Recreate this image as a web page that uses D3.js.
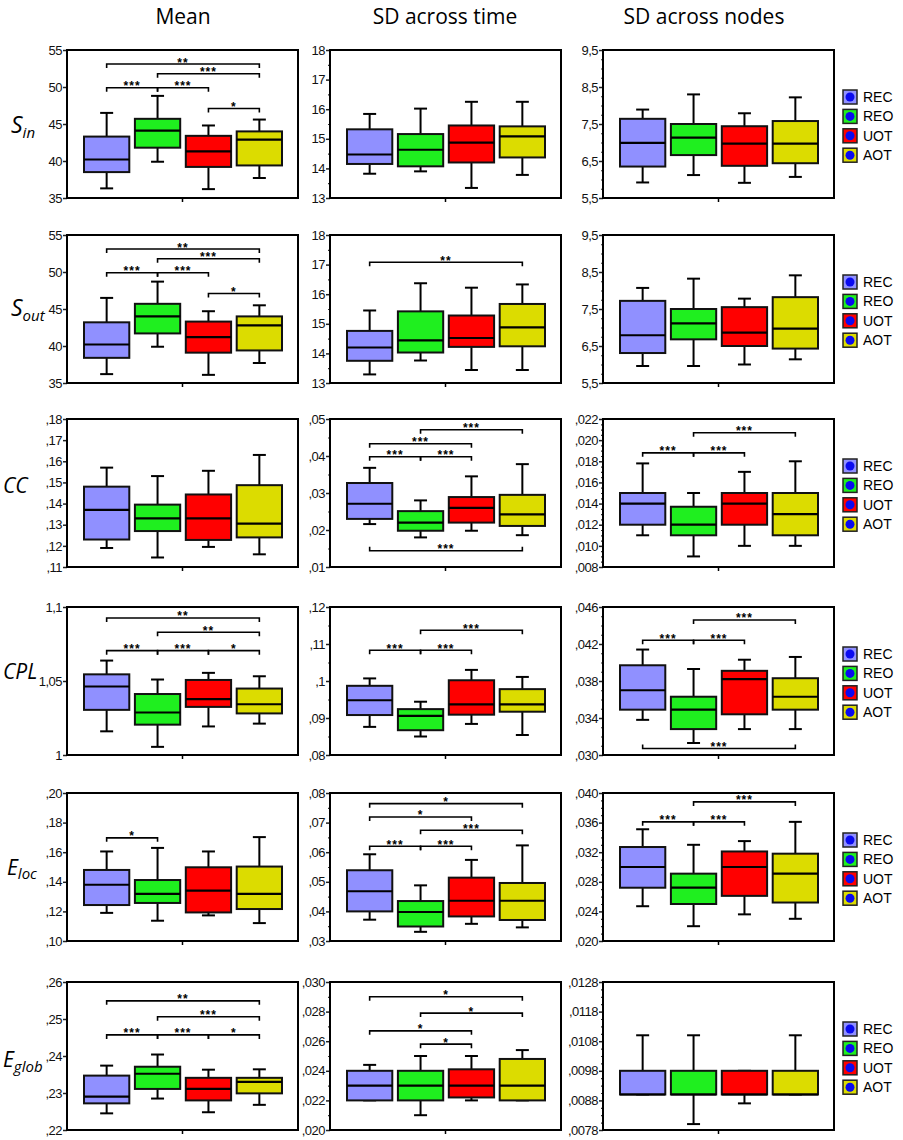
<!DOCTYPE html>
<html>
<head>
<meta charset="utf-8">
<script src="https://cdn.jsdelivr.net/npm/d3@7"></script>
<style>
  body { margin: 0; background: #fff; }
</style>
</head>
<body>
<div id="chart"></div>
<script>
const groups = ["REC", "REO", "UOT", "AOT"];
const colTitles = ["Mean", "SD across time", "SD across nodes"];
const rowLabels = [["S", "in"], ["S", "out"], ["CC", ""], ["CPL", ""], ["E", "loc"], ["E", "glob"]];

const ticksSin = [["35", "40", "45", "50", "55"], ["13", "14", "15", "16", "17", "18"], ["5,5", "6,5", "7,5", "8,5", "9,5"]];
const ticksSout = [["35", "40", "45", "50", "55"], ["13", "14", "15", "16", "17", "18"], ["5,5", "6,5", "7,5", "8,5", "9,5"]];
const ticksCC = [[",11", ",12", ",13", ",14", ",15", ",16", ",17", ",18"], [",01", ",02", ",03", ",04", ",05"],
  [",008", ",010", ",012", ",014", ",016", ",018", ",020", ",022"]];
const ticksCPL = [["1", "1,05", "1,1"], [",08", ",09", ",1", ",11", ",12"], [",030", ",034", ",038", ",042", ",046"]];
const ticksEloc = [[",10", ",12", ",14", ",16", ",18", ",20"], [",03", ",04", ",05", ",06", ",07", ",08"],
  [",020", ",024", ",028", ",032", ",036", ",040"]];
const ticksEglob = [[",22", ",23", ",24", ",25", ",26"], [",020", ",022", ",024", ",026", ",028", ",030"],
  [",0078", ",0088", ",0098", ",0108", ",0118", ",0128"]];

// box stats per column, per group: [low whisker, q1, median, q3, high whisker]
const statsSin = [
  [[36.3, 38.5, 40.2, 43.3, 46.5], [39.9, 41.8, 44.1, 45.7, 48.8], [36.2, 39.2, 41.3, 43.4, 44.8], [37.7, 39.4, 42.9, 44.0, 45.6]],
  [[13.82, 14.15, 14.47, 15.32, 15.84], [13.9, 14.07, 14.63, 15.16, 16.02], [13.34, 14.2, 14.87, 15.45, 16.25], [13.78, 14.37, 15.08, 15.42, 16.25]],
  [[5.92, 6.35, 6.99, 7.64, 7.89], [6.12, 6.66, 7.13, 7.5, 8.3], [5.91, 6.37, 6.97, 7.44, 7.79], [6.07, 6.44, 6.97, 7.58, 8.22]]
];
const statsSout = [
  [[36.2, 38.4, 40.2, 43.2, 46.5], [39.9, 41.7, 44.0, 45.7, 48.7], [36.1, 39.1, 41.2, 43.3, 44.7], [37.7, 39.4, 42.8, 44.0, 45.5]],
  [[13.29, 13.75, 14.2, 14.76, 15.45], [13.76, 14.03, 14.44, 15.42, 16.37], [13.44, 14.22, 14.52, 15.28, 16.22], [13.44, 14.24, 14.88, 15.67, 16.33]],
  [[5.96, 6.31, 6.79, 7.72, 8.07], [5.96, 6.68, 7.11, 7.5, 8.32], [6.0, 6.5, 6.86, 7.55, 7.78], [6.14, 6.43, 6.97, 7.82, 8.41]]
];
const statsCC = [
  [[.119, .123, .137, .148, .157], [.1145, .127, .133, .1395, .153], [.1195, .1228, .133, .1443, .1555], [.116, .124, .1305, .1487, .163]],
  [[.0216, .023, .0271, .0327, .0368], [.018, .0198, .022, .0251, .028], [.0198, .022, .026, .0289, .0345], [.0186, .0211, .0242, .0295, .0378]],
  [[.011, .012, .014, .015, .0178], [.009, .011, .012, .0137, .015], [.010, .012, .014, .015, .017], [.010, .011, .013, .015, .018]]
];
const statsCPL = [
  [[1.016, 1.0305, 1.0463, 1.0545, 1.0638], [1.0055, 1.0205, 1.0287, 1.0412, 1.051], [1.0193, 1.0325, 1.0378, 1.0507, 1.0555], [1.0212, 1.0281, 1.0343, 1.0449, 1.0532]],
  [[.0876, .0908, .0948, .0987, .1007], [.085, .0867, .0906, .0924, .0944], [.0884, .0909, .0937, .1002, .103], [.0854, .0917, .0937, .0978, .1011]],
  [[.0338, .0349, .037, .0397, .0414], [.0313, .0328, .0349, .0363, .0393], [.0328, .0344, .0382, .0391, .0403], [.0328, .0349, .0363, .0383, .0406]]
];
const statsEloc = [
  [[.119, .1243, .138, .148, .1605], [.1137, .1257, .1318, .1412, .1629], [.1173, .1193, .134, .1498, .1605], [.1121, .1216, .1318, .1503, .1702]],
  [[.0372, .04, .0468, .0539, .0593], [.0331, .0349, .0398, .0435, .0488], [.0358, .0383, .0436, .0514, .0574], [.0346, .0371, .0436, .0496, .0623]],
  [[.0247, .0272, .03, .0327, .0351], [.022, .025, .0272, .0291, .033], [.0236, .0261, .03, .0321, .0335], [.023, .0252, .0291, .0318, .0361]]
];
const statsEglob = [
  [[.2245, .2272, .229, .2347, .2374], [.2285, .2311, .2352, .2371, .2404], [.2248, .228, .2311, .2341, .2363], [.2268, .2299, .233, .2341, .2364]],
  [[.022, .022, .023, .024, .0244], [.021, .022, .023, .024, .025], [.022, .0222, .023, .0241, .025], [.022, .022, .023, .0248, .0254]],
  [[.009, .009, .009, .0098, .011], [.008, .009, .009, .0098, .011], [.0087, .009, .009, .0098, .0098], [.009, .009, .009, .0098, .011]]
];

// significance brackets per column: [from, to, level (data units), stars, drawn upside down]
const bracketsSin = [
  [["REC", "AOT", 53.1, "**"], ["REO", "AOT", 51.8, "***"], ["REC", "REO", 49.9, "***"], ["REO", "UOT", 49.9, "***"], ["UOT", "AOT", 47.1, "*"]],
  [], []
];
const bracketsSout = [
  [["REC", "AOT", 53.1, "**"], ["REO", "AOT", 51.8, "***"], ["REC", "REO", 49.9, "***"], ["REO", "UOT", 49.9, "***"], ["UOT", "AOT", 47.1, "*"]],
  [["REC", "AOT", 17.08, "**"]], []
];
const bracketsCC = [
  [],
  [["REO", "AOT", .0471, "***"], ["REC", "UOT", .0433, "***"], ["REC", "REO", .0398, "***"], ["REO", "UOT", .0398, "***"], ["REC", "AOT", .0144, "***", true]],
  [["REO", "AOT", .0207, "***"], ["REC", "REO", .0188, "***"], ["REO", "UOT", .0188, "***"]]
];
const bracketsCPL = [
  [["REC", "AOT", 1.0926, "**"], ["REO", "AOT", 1.0829, "**"], ["REC", "REO", 1.0705, "***"], ["REO", "UOT", 1.0705, "***"], ["UOT", "AOT", 1.0705, "*"]],
  [["REO", "AOT", .1137, "***"], ["REC", "REO", .1083, "***"], ["REO", "UOT", .1083, "***"]],
  [["REO", "AOT", .0446, "***"], ["REC", "REO", .0424, "***"], ["REO", "UOT", .0424, "***"], ["REC", "AOT", .0307, "***", true]]
];
const bracketsEloc = [
  [["REC", "REO", .1697, "*"]],
  [["REC", "AOT", .0764, "*"], ["REC", "UOT", .0719, "*"], ["REO", "AOT", .0674, "***"], ["REC", "REO", .062, "***"], ["REO", "UOT", .062, "***"]],
  [["REO", "AOT", .0388, "***"], ["REC", "REO", .0361, "***"], ["REO", "UOT", .0361, "***"]]
];
const bracketsEglob = [
  [["REC", "AOT", .2549, "**"], ["REO", "AOT", .2506, "***"], ["REC", "REO", .2457, "***"], ["REO", "UOT", .2457, "***"], ["UOT", "AOT", .2457, "*"]],
  [["REC", "AOT", .029, "*"], ["REO", "AOT", .0279, "*"], ["REC", "UOT", .0267, "*"], ["REO", "UOT", .0258, "*"]],
  []
];

// layout and style
const W = 903, H = 1140;
const colX = [67, 330, 603];
const rowY = [50, 235, 419, 607, 793, 982];
const panelW = 231, panelH = 148;
const labelX = [11, 11, 3, 3, 7, 3];
const labelBaseline = [83, 81, 74, 72, 82, 85];
const labelSize = [23, 23, 21, 21, 21, 21];
const subDy = [5, 5, 0, 0, 4, 5];
const titleX = [183, 445, 704];
const minorDiv = [1, 2, 4];
const colors = { REC: "#9090ff", REO: "#1fef1f", UOT: "#ff0000", AOT: "#dcdc00" };

const rows = [
  { stats: statsSin, ticks: ticksSin, brackets: bracketsSin },
  { stats: statsSout, ticks: ticksSout, brackets: bracketsSout },
  { stats: statsCC, ticks: ticksCC, brackets: bracketsCC },
  { stats: statsCPL, ticks: ticksCPL, brackets: bracketsCPL },
  { stats: statsEloc, ticks: ticksEloc, brackets: bracketsEloc },
  { stats: statsEglob, ticks: ticksEglob, brackets: bracketsEglob }
];

const svg = d3.select("#chart")
  .append("svg")
  .attr("width", W)
  .attr("height", H)
  .style("font-family", "'Liberation Sans', Arial, sans-serif");

svg.selectAll("text.col-title")
  .data(colTitles)
  .enter()
  .append("text")
  .attr("class", "col-title")
  .attr("x", (d, i) => titleX[i])
  .attr("y", 24)
  .attr("text-anchor", "middle")
  .style("font-family", "'Open Sans', sans-serif")
  .style("font-size", "21px")
  .text(d => d);

const x = d3.scaleBand().domain(groups).range([17, 215]).paddingInner(0.11);
const toNum = s => +s.replace(",", ".");

rows.forEach((row, r) => {
  // row label
  const lab = svg.append("text")
    .attr("x", labelX[r])
    .attr("y", rowY[r] + labelBaseline[r])
    .style("font-family", "'Open Sans', sans-serif")
    .style("font-style", "italic")
    .style("font-size", labelSize[r] + "px");
  lab.append("tspan").text(rowLabels[r][0]);
  if (rowLabels[r][1]) {
    lab.append("tspan").attr("dy", subDy[r]).style("font-size", "15px").text(rowLabels[r][1]);
  }

  for (let c = 0; c < 3; c++) {
    const labels = row.ticks[c];
    const values = labels.map(toNum);
    const y = d3.scaleLinear().domain([values[0], values[values.length - 1]]).range([panelH, 0]);
    const g = svg.append("g").attr("transform", `translate(${colX[c]},${rowY[r]})`);

    // minor ticks
    if (minorDiv[c] > 1) {
      const minor = [];
      for (let i = 0; i < values.length - 1; i++) {
        for (let k = 1; k < minorDiv[c]; k++) {
          minor.push(values[i] + (values[i + 1] - values[i]) * k / minorDiv[c]);
        }
      }
      const mg = g.append("g").call(d3.axisLeft(y).tickValues(minor).tickSize(2).tickFormat(""));
      mg.select(".domain").remove();
      mg.selectAll("line").attr("stroke", "#333").attr("stroke-width", 1.2);
    }

    const ag = g.append("g").call(
      d3.axisLeft(y).tickValues(values).tickSize(4).tickPadding(1).tickFormat((d, i) => labels[i])
    );
    ag.select(".domain").remove();
    ag.selectAll("line").attr("stroke", "#222").attr("stroke-width", 1.5);
    ag.selectAll("text")
      .style("font-family", "'Liberation Sans', Arial, sans-serif")
      .style("font-size", "13px")
      .style("letter-spacing", "-0.5px")
      .attr("fill", "#111");

    // boxes
    const boxes = g.selectAll("g.box")
      .data(groups.map((k, i) => ({ key: k, s: row.stats[c][i] })))
      .enter()
      .append("g")
      .attr("class", "box");

    const cx = d => x(d.key) + x.bandwidth() / 2;
    const cap = 6.5;

    boxes.append("line")
      .attr("x1", cx).attr("x2", cx)
      .attr("y1", d => y(d.s[4])).attr("y2", d => y(d.s[0]))
      .attr("stroke", "#000").attr("stroke-width", 2);
    boxes.append("line")
      .attr("x1", d => cx(d) - cap).attr("x2", d => cx(d) + cap)
      .attr("y1", d => y(d.s[4])).attr("y2", d => y(d.s[4]))
      .attr("stroke", "#000").attr("stroke-width", 2);
    boxes.append("line")
      .attr("x1", d => cx(d) - cap).attr("x2", d => cx(d) + cap)
      .attr("y1", d => y(d.s[0])).attr("y2", d => y(d.s[0]))
      .attr("stroke", "#000").attr("stroke-width", 2);
    boxes.append("rect")
      .attr("x", d => x(d.key))
      .attr("width", x.bandwidth())
      .attr("y", d => y(d.s[3]))
      .attr("height", d => y(d.s[1]) - y(d.s[3]))
      .attr("fill", d => colors[d.key])
      .attr("stroke", "#111")
      .attr("stroke-width", 2);
    boxes.append("line")
      .attr("x1", d => x(d.key)).attr("x2", d => x(d.key) + x.bandwidth())
      .attr("y1", d => y(d.s[2])).attr("y2", d => y(d.s[2]))
      .attr("stroke", "#000").attr("stroke-width", 2.2);

    // significance brackets
    row.brackets[c].forEach(b => {
      const x1 = x(b[0]) + x.bandwidth() / 2;
      const x2 = x(b[1]) + x.bandwidth() / 2;
      const ly = y(b[2]);
      const d = b[4] ? -4 : 4;
      g.append("path")
        .attr("d", `M${x1},${ly + d}L${x1},${ly}L${x2},${ly}L${x2},${ly + d}`)
        .attr("fill", "none")
        .attr("stroke", "#000")
        .attr("stroke-width", 1.6);
      g.append("text")
        .attr("x", (x1 + x2) / 2)
        .attr("y", ly + 2.5)
        .attr("text-anchor", "middle")
        .style("font-size", "12px")
        .style("font-weight", "bold")
        .style("letter-spacing", "1px")
        .text(b[3]);
    });

    // frame and the single category tick
    g.append("rect")
      .attr("width", panelW)
      .attr("height", panelH)
      .attr("fill", "none")
      .attr("stroke", "#000")
      .attr("stroke-width", 2);
    g.append("line")
      .attr("x1", panelW / 2).attr("x2", panelW / 2)
      .attr("y1", panelH).attr("y2", panelH + 4)
      .attr("stroke", "#000").attr("stroke-width", 1.5);
  }

  // legend
  const lg = svg.append("g").attr("transform", `translate(843,${rowY[r] + 47})`);
  const items = lg.selectAll("g")
    .data(groups)
    .enter()
    .append("g")
    .attr("transform", (d, i) => `translate(0,${i * 19.4})`);
  items.append("rect")
    .attr("x", 0).attr("y", -7)
    .attr("width", 14).attr("height", 14)
    .attr("fill", d => colors[d])
    .attr("stroke", "#222")
    .attr("stroke-width", 1.5);
  items.append("circle")
    .attr("cx", 7).attr("cy", 0).attr("r", 4.5)
    .attr("fill", "#0a0af0");
  items.append("text")
    .attr("x", 20).attr("y", 5)
    .style("font-size", "14px")
    .text(d => d);
});
</script>
</body>
</html>
